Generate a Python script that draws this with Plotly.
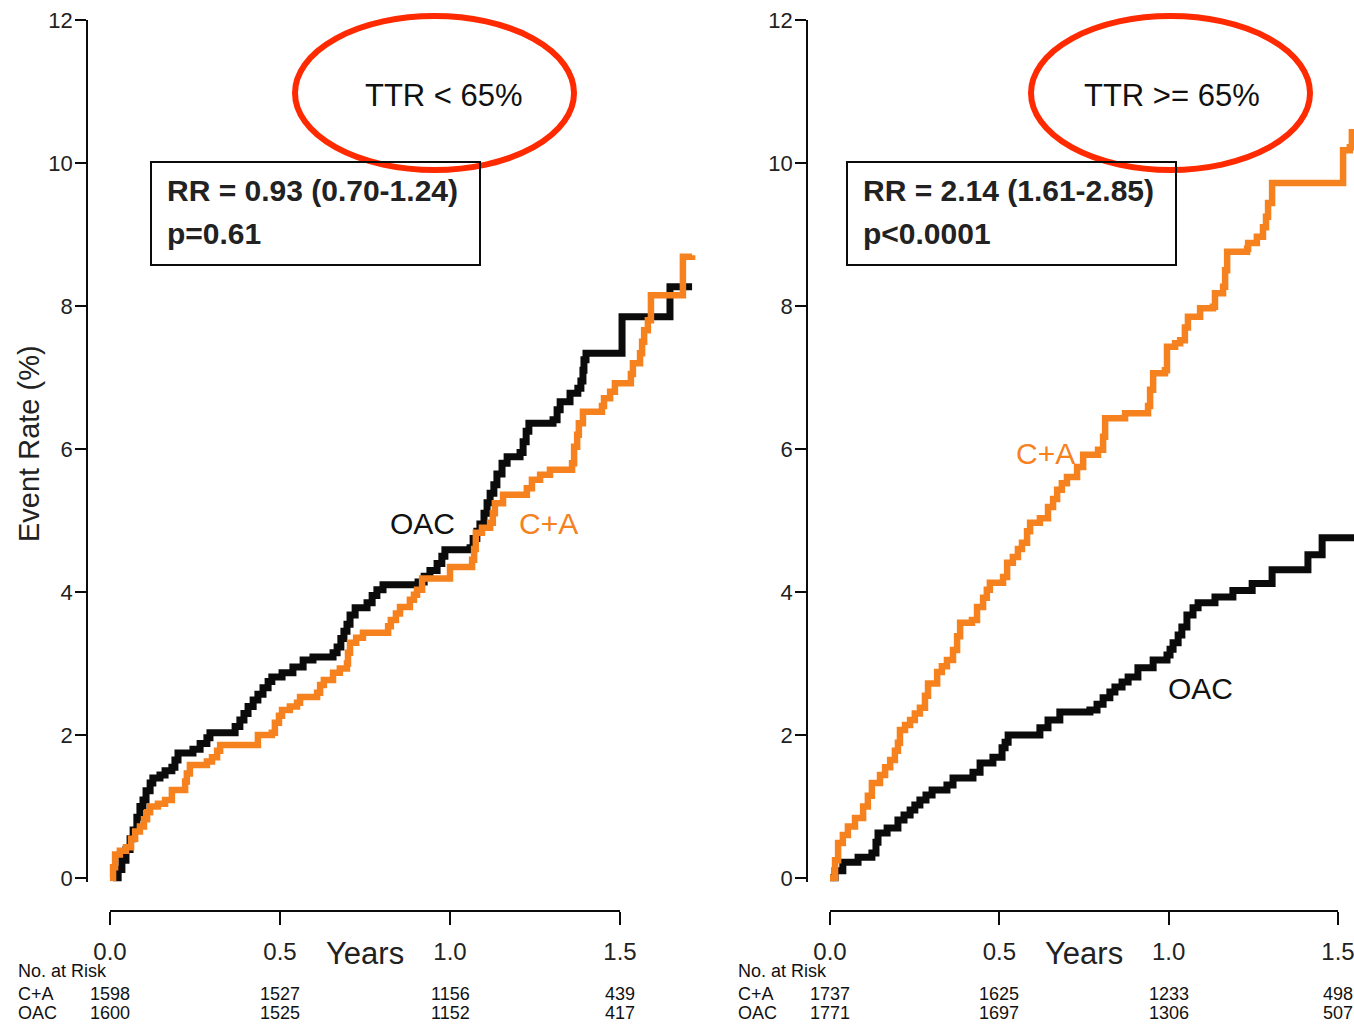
import plotly.graph_objects as go

W, H = 1354, 1028

# ---------------- data ----------------
tick_years = [0.0, 0.5, 1.0, 1.5]
tick_year_labels = ["0.0", "0.5", "1.0", "1.5"]
y_ticks = [0, 2, 4, 6, 8, 10, 12]

# Left panel: TTR < 65%
left_oac_t = [0.009, 0.024, 0.035, 0.047, 0.059, 0.068, 0.079, 0.088, 0.097, 0.106, 0.118, 0.126,
              0.147, 0.162, 0.182, 0.191, 0.200, 0.244, 0.265, 0.285, 0.294, 0.368, 0.382, 0.394,
              0.406, 0.421, 0.435, 0.450, 0.465, 0.476, 0.506, 0.538, 0.568, 0.597, 0.656, 0.668,
              0.679, 0.688, 0.697, 0.706, 0.721, 0.756, 0.771, 0.785, 0.803, 0.906, 0.924, 0.941,
              0.962, 0.976, 0.985, 1.059, 1.068, 1.079, 1.088, 1.100, 1.109, 1.118, 1.129, 1.138,
              1.153, 1.168, 1.206, 1.215, 1.224, 1.232, 1.303, 1.315, 1.324, 1.353, 1.376, 1.385,
              1.391, 1.394, 1.400, 1.506, 1.647, 1.712]
left_oac_y = [0.00, 0.12, 0.25, 0.40, 0.55, 0.67, 0.85, 1.00, 1.09, 1.22, 1.33, 1.40,
              1.44, 1.50, 1.55, 1.65, 1.75, 1.80, 1.88, 1.96, 2.03, 2.12, 2.21, 2.30,
              2.40, 2.49, 2.57, 2.66, 2.75, 2.81, 2.87, 2.95, 3.05, 3.09, 3.15, 3.23,
              3.35, 3.45, 3.55, 3.68, 3.78, 3.85, 3.95, 4.03, 4.10, 4.14, 4.22, 4.30,
              4.40, 4.50, 4.59, 4.62, 4.75, 4.85, 4.95, 5.10, 5.25, 5.38, 5.50, 5.65,
              5.80, 5.89, 5.95, 6.10, 6.25, 6.36, 6.41, 6.55, 6.66, 6.78, 6.85, 6.95,
              7.10, 7.25, 7.34, 7.85, 8.27, 8.27]

left_ca_t = [0.000, 0.009, 0.015, 0.029, 0.047, 0.062, 0.074, 0.088, 0.100, 0.109, 0.118, 0.141,
             0.162, 0.182, 0.221, 0.226, 0.235, 0.285, 0.300, 0.315, 0.324, 0.435, 0.476, 0.485,
             0.497, 0.506, 0.529, 0.550, 0.559, 0.609, 0.618, 0.629, 0.656, 0.676, 0.697, 0.700,
             0.706, 0.724, 0.744, 0.818, 0.826, 0.841, 0.853, 0.882, 0.894, 0.903, 0.918, 1.000,
             1.065, 1.071, 1.076, 1.094, 1.118, 1.126, 1.132, 1.156, 1.226, 1.241, 1.265, 1.294,
             1.359, 1.365, 1.374, 1.379, 1.391, 1.447, 1.453, 1.471, 1.485, 1.532, 1.538, 1.559,
             1.565, 1.571, 1.582, 1.591, 1.685, 1.712]
left_ca_y = [0.00, 0.15, 0.33, 0.38, 0.43, 0.55, 0.65, 0.72, 0.82, 0.92, 1.00, 1.04,
             1.09, 1.23, 1.35, 1.46, 1.58, 1.63, 1.69, 1.78, 1.86, 2.00, 2.03, 2.17,
             2.27, 2.35, 2.40, 2.45, 2.53, 2.59, 2.70, 2.77, 2.87, 2.93, 3.00, 3.15,
             3.29, 3.36, 3.43, 3.52, 3.61, 3.70, 3.79, 3.89, 3.96, 4.03, 4.19, 4.35,
             4.45, 4.60, 4.83, 4.90, 4.97, 5.10, 5.24, 5.36, 5.45, 5.57, 5.64, 5.71,
             5.80, 6.03, 6.20, 6.36, 6.52, 6.60, 6.71, 6.80, 6.92, 7.05, 7.20, 7.34,
             7.50, 7.66, 7.80, 8.15, 8.69, 8.71]

# Right panel: TTR >= 65%
right_oac_t = [0.000, 0.015, 0.038, 0.083, 0.124, 0.136, 0.142, 0.169, 0.201, 0.219, 0.237, 0.251,
               0.266, 0.284, 0.302, 0.346, 0.364, 0.423, 0.444, 0.482, 0.509, 0.518, 0.527, 0.621,
               0.645, 0.680, 0.769, 0.790, 0.808, 0.828, 0.843, 0.864, 0.882, 0.911, 0.956, 0.997,
               1.006, 1.015, 1.030, 1.041, 1.056, 1.074, 1.089, 1.139, 1.192, 1.249, 1.308, 1.414,
               1.456, 1.620]
right_oac_y = [0.00, 0.10, 0.22, 0.29, 0.35, 0.50, 0.63, 0.70, 0.81, 0.88, 0.95, 1.02,
               1.09, 1.16, 1.23, 1.30, 1.40, 1.48, 1.61, 1.69, 1.82, 1.90, 2.00, 2.10,
               2.21, 2.32, 2.35, 2.43, 2.52, 2.60, 2.67, 2.74, 2.81, 2.94, 3.05, 3.12,
               3.20, 3.29, 3.40, 3.51, 3.68, 3.78, 3.85, 3.93, 4.02, 4.12, 4.31, 4.52,
               4.76, 4.76]

right_ca_t = [0.000, 0.015, 0.024, 0.038, 0.053, 0.074, 0.098, 0.112, 0.124, 0.148, 0.163, 0.178,
              0.192, 0.201, 0.207, 0.222, 0.237, 0.251, 0.266, 0.281, 0.290, 0.317, 0.331, 0.346,
              0.364, 0.376, 0.385, 0.420, 0.435, 0.453, 0.464, 0.473, 0.512, 0.524, 0.541, 0.556,
              0.568, 0.583, 0.592, 0.621, 0.645, 0.660, 0.672, 0.686, 0.701, 0.731, 0.749, 0.793,
              0.808, 0.814, 0.873, 0.941, 0.947, 0.956, 0.991, 0.997, 1.021, 1.036, 1.050, 1.059,
              1.095, 1.133, 1.139, 1.163, 1.169, 1.175, 1.234, 1.237, 1.263, 1.281, 1.290, 1.296,
              1.308, 1.518, 1.538, 1.544, 1.600]
right_ca_y = [0.00, 0.25, 0.49, 0.60, 0.72, 0.84, 1.00, 1.15, 1.33, 1.44, 1.55, 1.65,
              1.78, 1.89, 2.07, 2.14, 2.21, 2.30, 2.38, 2.55, 2.72, 2.88, 2.96, 3.05,
              3.19, 3.38, 3.57, 3.61, 3.79, 3.92, 4.03, 4.13, 4.21, 4.41, 4.49, 4.60,
              4.69, 4.85, 4.97, 5.03, 5.19, 5.30, 5.43, 5.52, 5.61, 5.75, 5.92, 5.99,
              6.17, 6.43, 6.50, 6.60, 6.83, 7.06, 7.10, 7.43, 7.48, 7.52, 7.70, 7.85,
              7.97, 7.99, 8.18, 8.27, 8.50, 8.76, 8.80, 8.88, 8.97, 9.10, 9.25, 9.44,
              9.72, 10.18, 10.22, 10.43, 10.43]

risk_groups = ["C+A", "OAC"]
left_risk_ca = [1598, 1527, 1156, 439]
left_risk_oac = [1600, 1525, 1152, 417]
right_risk_ca = [1737, 1625, 1233, 498]
right_risk_oac = [1771, 1697, 1306, 507]

left_title = "TTR &lt; 65%"
right_title = "TTR &gt;= 65%"
left_stats = ["RR = 0.93 (0.70-1.24)", "p=0.61"]
right_stats = ["RR = 2.14 (1.61-2.85)", "p&lt;0.0001"]

# ---------------- styling ----------------
BLACK = "#0b0b0b"
ORANGE = "#F5821F"
RED = "#FF2A00"
FONT = "Liberation Sans, Arial, Helvetica, sans-serif"


def px(x):
    return x / W


def py(y):
    return 1 - y / H


Y_BOTTOM_PIX = 878 + 0.05 * (858 / 12)
y_dom = [py(Y_BOTTOM_PIX), py(20)]

fig = go.Figure()

fig.add_trace(go.Scatter(x=left_oac_t, y=left_oac_y, mode="lines", line=dict(color=BLACK, width=7, shape="hv"),
                         xaxis="x", yaxis="y", showlegend=False, hoverinfo="skip"))
fig.add_trace(go.Scatter(x=left_ca_t, y=left_ca_y, mode="lines", line=dict(color=ORANGE, width=6.5, shape="hv"),
                         xaxis="x", yaxis="y", showlegend=False, hoverinfo="skip"))
fig.add_trace(go.Scatter(x=right_oac_t, y=right_oac_y, mode="lines", line=dict(color=BLACK, width=7, shape="hv"),
                         xaxis="x2", yaxis="y2", showlegend=False, hoverinfo="skip"))
fig.add_trace(go.Scatter(x=right_ca_t, y=right_ca_y, mode="lines", line=dict(color=ORANGE, width=6.5, shape="hv"),
                         xaxis="x2", yaxis="y2", showlegend=False, hoverinfo="skip"))
fig.add_trace(go.Scatter(x=[0], y=[0], mode="markers", marker=dict(opacity=0), xaxis="x3", yaxis="y",
                         showlegend=False, hoverinfo="skip"))
fig.add_trace(go.Scatter(x=[0], y=[0], mode="markers", marker=dict(opacity=0), xaxis="x4", yaxis="y2",
                         showlegend=False, hoverinfo="skip"))

hidden_x = dict(showline=False, showticklabels=False, ticks="", showgrid=False, zeroline=False,
                automargin=False)
yax = dict(range=[-0.05, 12], domain=y_dom, showline=True, linecolor=BLACK, linewidth=1.5,
           ticks="outside", ticklen=11, tickwidth=1.5, tickcolor=BLACK, tickvals=y_ticks,
           tickfont=dict(size=22, color="#222", family=FONT), showgrid=False, zeroline=False,
           ticklabelstandoff=-2, automargin=False)
year_ax = dict(range=[0, 1.5], anchor="free", position=py(911), showline=True, linecolor=BLACK,
               linewidth=1.5, ticks="outside", ticklen=13, tickwidth=1.5, tickcolor=BLACK,
               tickvals=tick_years, ticktext=tick_year_labels, showgrid=False, zeroline=False,
               tickfont=dict(size=24, color="#222", family=FONT), ticklabelstandoff=6,
               automargin=False, ticklabeloverflow="allow")

fig.update_layout(
    template="none",
    width=W, height=H, margin=dict(l=0, r=0, t=0, b=0, pad=0, autoexpand=False),
    paper_bgcolor="white", plot_bgcolor="rgba(0,0,0,0)",
    font=dict(family=FONT, color="#222"),
    xaxis=dict(domain=[px(88), px(705)], range=[(88 - 110) / 340, (705 - 110) / 340], anchor="y", **hidden_x),
    yaxis=dict(anchor="x", **yax),
    xaxis2=dict(domain=[px(808), 1.0], range=[(808 - 830) / 338, (1354 - 830) / 338], anchor="y2", **hidden_x),
    yaxis2=dict(anchor="x2", **yax),
    xaxis3=dict(domain=[px(110), px(620)], **year_ax),
    xaxis4=dict(domain=[px(830), px(1338)], **year_ax),
)

shapes = []
annotations = []


def panel(ax_off, box_off, ell_off, xref, title, stats, risk_ca, risk_oac, title_cx):
    shapes.append(dict(type="circle", xref="paper", yref="paper",
                       x0=px(295 + ell_off), x1=px(574 + ell_off), y0=py(170), y1=py(16),
                       line=dict(color=RED, width=6)))
    shapes.append(dict(type="rect", xref="paper", yref="paper",
                       x0=px(151 + box_off), x1=px(480 + box_off), y0=py(265), y1=py(162),
                       line=dict(color=BLACK, width=2)))
    annotations.append(dict(text=title, x=px(title_cx), y=py(95), xref="paper", yref="paper",
                            showarrow=False, xanchor="center", yanchor="middle",
                            font=dict(size=31, color="#111", family=FONT)))
    annotations.append(dict(text="<b>" + stats[0] + "</b>", x=px(165 + box_off), y=py(190),
                            xref="paper", yref="paper", showarrow=False, xanchor="left", yanchor="middle",
                            font=dict(size=30, color="#222", family=FONT)))
    annotations.append(dict(text="<b>" + stats[1] + "</b>", x=px(165 + box_off), y=py(234),
                            xref="paper", yref="paper", showarrow=False, xanchor="left", yanchor="middle",
                            font=dict(size=30, color="#222", family=FONT)))
    annotations.append(dict(text="Years", x=0.75, y=py(953), xref=xref,
                            yref="paper", showarrow=False, xanchor="center", yanchor="middle",
                            font=dict(size=31, color="#222", family=FONT)))
    annotations.append(dict(text="No. at Risk", x=px(16 + ax_off), y=py(971), xref="paper", yref="paper",
                            showarrow=False, xanchor="left", yanchor="middle",
                            font=dict(size=18, color="#111", family=FONT)))
    for row, (name, vals) in enumerate(zip(risk_groups, [risk_ca, risk_oac])):
        yy = py(994 + 19 * row)
        annotations.append(dict(text=name, x=px(16 + ax_off), y=yy, xref="paper", yref="paper",
                                showarrow=False, xanchor="left", yanchor="middle",
                                font=dict(size=18, color="#111", family=FONT)))
        for tv, v in zip(tick_years, vals):
            annotations.append(dict(text=str(v), x=tv, y=yy, xref=xref, yref="paper",
                                    showarrow=False, xanchor="center", yanchor="middle",
                                    font=dict(size=18, color="#111", family=FONT)))


panel(0, 0, 0, "x3", left_title, left_stats, left_risk_ca, left_risk_oac, 444)
panel(720, 696, 736, "x4", right_title, right_stats, right_risk_ca, right_risk_oac, 1172)

annotations.append(dict(text="Event Rate (%)", x=px(29), y=py(444), xref="paper", yref="paper",
                        showarrow=False, textangle=-90, xanchor="center", yanchor="middle",
                        font=dict(size=29, color="#222", family=FONT)))
annotations.append(dict(text="OAC", x=(422 - 110) / 340, y=(878 - 523) / 71.5, xref="x", yref="y",
                        showarrow=False, font=dict(size=30, color="#111", family=FONT)))
annotations.append(dict(text="C+A", x=(548 - 110) / 340, y=(878 - 523) / 71.5, xref="x", yref="y",
                        showarrow=False, font=dict(size=30, color=ORANGE, family=FONT)))
annotations.append(dict(text="C+A", x=(1045 - 830) / 338, y=(878 - 453) / 71.5, xref="x2", yref="y2",
                        showarrow=False, font=dict(size=30, color=ORANGE, family=FONT)))
annotations.append(dict(text="OAC", x=(1200 - 830) / 338, y=(878 - 688) / 71.5, xref="x2", yref="y2",
                        showarrow=False, font=dict(size=30, color="#111", family=FONT)))

fig.update_layout(shapes=shapes, annotations=annotations)
fig.write_html("out.html")
